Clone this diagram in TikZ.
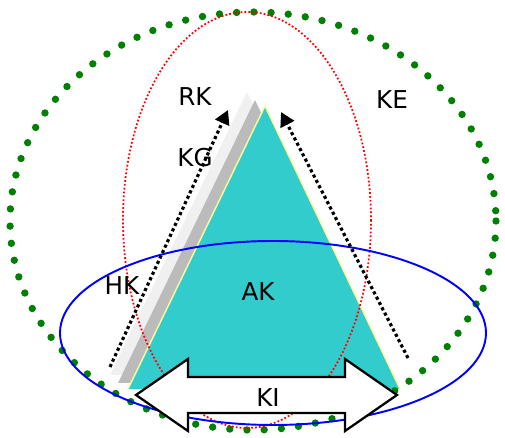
\documentclass[tikz,border=0pt]{standalone}
\usepackage{fontspec}
\setmainfont{DejaVu Sans}
\usetikzlibrary{arrows.meta}
\definecolor{teal1}{HTML}{33CCCC}
\definecolor{grey1}{HTML}{F0F0F0}
\definecolor{grey2}{HTML}{BBBBBB}
\definecolor{green1}{HTML}{008000}
\tikzset{
  lbl/.style={font=\fontsize{14}{16}\selectfont},
  dotarrow/.style={line width=1.8pt,dash pattern=on 1.8pt off 1.6pt,-{Triangle[length=8pt,width=8.5pt]}},
}
\begin{document}
\begin{tikzpicture}[x=0.02cm,y=-0.02cm]
  \useasboundingbox (0,0) rectangle (505,438);
  % shadows behind the triangle
  \fill[grey1](110,375)--(247,92)--(382,375)--cycle;
  \fill[grey2](118,383)--(255,100)--(390,383)--cycle;
  \fill[teal1](128,389)--(265,106)--(400,389)--cycle;
  \draw[yellow!40,line width=0.8pt](128,389)--(265,106)--(400,389);
  % ellipses
  \draw[green1,line width=4.2pt,line cap=round,dash pattern=on 0pt off 9.8pt](253,221) ellipse(243 and 209);
  \draw[red,line width=1pt,dash pattern=on 1pt off 1.2pt](247,220) ellipse(124 and 208);
  \draw[blue,line width=1.1pt](273,333) ellipse(213 and 92);
  % dotted arrows
  \coordinate (l0) at (110,367);
  \coordinate (l1) at (228,110);
  \coordinate (r0) at (408,358);
  \coordinate (r1) at (281,112);
  \draw[dotarrow](l0)--(l1);
  \draw[dotarrow](r0)--(r1);
  % double arrow
  \draw[fill=white,line width=1.3pt](136,395)--(188,359)--(188,377)--(345,377)--(345,359)--(397,395)
    --(345,431)--(345,413)--(188,413)--(188,431)--cycle;
  \node[lbl] (ki) at (268,398){KI};
  \node[lbl] (rk) at (195,97){RK};
  \node[lbl] (kg) at (195,158){KG};
  \node[lbl] (ke) at (392,100){KE};
  \node[lbl] (hk) at (122,286){HK};
  \node[lbl] (ak) at (258,292){AK};
\end{tikzpicture}
\end{document}
